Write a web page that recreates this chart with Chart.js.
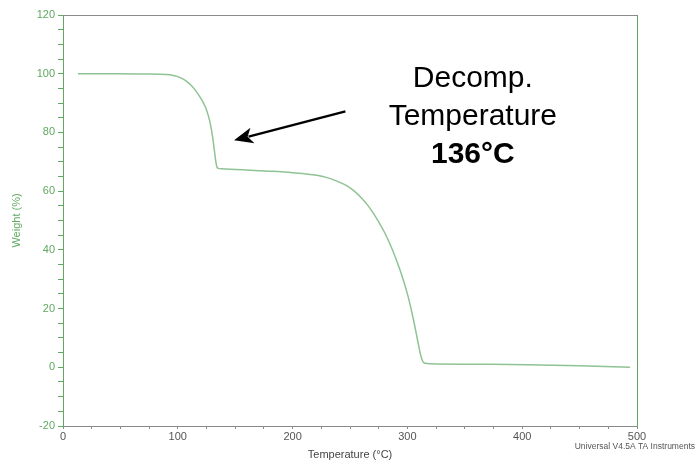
<!DOCTYPE html>
<html>
<head>
<meta charset="utf-8">
<script src="https://cdn.jsdelivr.net/npm/chart.js@4/dist/chart.umd.min.js"></script>
<style>
  html, body { margin: 0; padding: 0; background: #fff; }
  #wrap { width: 698px; height: 464px; }
</style>
</head>
<body>
<div id="wrap"><canvas id="tga"></canvas></div>
<script>
// temperature (°C) and weight (%)
const temperatures = [13, 30, 50, 70, 90, 96, 100, 104, 108, 112, 116, 119, 122, 124.5, 126.5, 128, 129.5, 131,
  132.2, 133.3, 134.2, 135.5, 138, 150, 163, 180, 200, 221, 230, 238, 245, 250, 255, 260, 265, 270, 275, 280,
  285, 290, 295, 300, 304, 307.5, 310, 312, 313.5, 315.5, 320, 360, 404, 450, 494];
const weights = [100, 100, 100, 99.9, 99.7, 99.4, 99.0, 98.3, 97.3, 95.9, 94.0, 92.3, 90.3, 88.2, 85.8, 83.5, 80.5, 76.5,
  72.8, 69.6, 68.1, 67.75, 67.6, 67.4, 67.1, 66.8, 66.3, 65.4, 64.6, 63.5, 62.3, 61.1, 59.6, 57.7, 55.4, 52.7, 49.5, 46,
  41.8, 37, 31.5, 25, 18.5, 12, 7, 3.5, 1.9, 1.35, 1.2, 1.05, 0.9, 0.5, 0];

const yTickLabels = [120, 100, 80, 60, 40, 20, 0, -20];
const xTickLabels = [0, 100, 200, 300, 400, 500];

const noteLines = ['Decomp.', 'Temperature', '136°C'];
const noteAnchor = { x: 357, y: [95.5, 82.4, 69.5] };
const arrowFrom = { x: 246, y: 87.2 };
const arrowTo = { x: 149, y: 77.3 };

const GREEN = '#62a862';
const CURVE = '#8fc394';
const GREY = '#8a8a8a';
const FONT = '"Liberation Sans", Arial, sans-serif';

const points = temperatures.map((t, i) => ({ x: t, y: weights[i] }));

const frame = {
  id: 'frame',
  afterDatasetsDraw(chart) {
    const { ctx, chartArea: a, scales } = chart;
    ctx.save();
    ctx.lineWidth = 1;
    ctx.strokeStyle = GREY;
    ctx.beginPath();
    ctx.moveTo(a.left, a.top + 0.5);
    ctx.lineTo(a.right, a.top + 0.5);
    ctx.stroke();
    ctx.strokeStyle = GREEN;
    ctx.beginPath();
    ctx.moveTo(a.right + 0.5, a.top);
    ctx.lineTo(a.right + 0.5, a.bottom);
    ctx.stroke();

    // annotation
    const x = scales.x, y = scales.y;
    ctx.fillStyle = '#000';
    ctx.textAlign = 'center';
    ctx.textBaseline = 'alphabetic';
    noteLines.forEach((txt, i) => {
      ctx.font = (i === 2 ? 'bold ' : '') + '30px ' + FONT;
      ctx.fillText(txt, x.getPixelForValue(noteAnchor.x), y.getPixelForValue(noteAnchor.y[i]));
    });

    const x1 = x.getPixelForValue(arrowFrom.x), y1 = y.getPixelForValue(arrowFrom.y);
    const x2 = x.getPixelForValue(arrowTo.x), y2 = y.getPixelForValue(arrowTo.y);
    const ang = Math.atan2(y2 - y1, x2 - x1);
    const hl = 19, hw = 8;
    const bx = x2 - hl * Math.cos(ang), by = y2 - hl * Math.sin(ang);
    ctx.strokeStyle = '#000';
    ctx.lineWidth = 2.4;
    ctx.beginPath();
    ctx.moveTo(x1, y1);
    ctx.lineTo(bx + 4 * Math.cos(ang), by + 4 * Math.sin(ang));
    ctx.stroke();
    ctx.beginPath();
    ctx.moveTo(x2, y2);
    ctx.lineTo(bx + hw * Math.sin(ang), by - hw * Math.cos(ang));
    ctx.lineTo(x2 - (hl - 5) * Math.cos(ang), y2 - (hl - 5) * Math.sin(ang));
    ctx.lineTo(bx - hw * Math.sin(ang), by + hw * Math.cos(ang));
    ctx.closePath();
    ctx.fill();

    ctx.font = '8.5px ' + FONT;
    ctx.fillStyle = '#555';
    ctx.textAlign = 'right';
    ctx.textBaseline = 'middle';
    ctx.fillText('Universal V4.5A TA Instruments', 695, 447);
    ctx.restore();
  }
};

new Chart(document.getElementById('tga'), {
  type: 'scatter',
  data: {
    datasets: [{
      data: points,
      showLine: true,
      borderColor: CURVE,
      borderWidth: 1.5,
      pointRadius: 0,
      cubicInterpolationMode: 'monotone',
      fill: false
    }]
  },
  options: {
    responsive: true,
    maintainAspectRatio: false,
    animation: false,
    layout: { padding: { top: 15, right: 61, left: 0, bottom: 0 } },
    plugins: { legend: { display: false }, tooltip: { enabled: false } },
    scales: {
      x: {
        type: 'linear',
        min: 0,
        max: 500,
        afterFit: s => { s.height = 38; },
        afterBuildTicks: s => {
          s.ticks = [];
          for (let v = 0; v <= 500; v += 25) s.ticks.push({ value: v });
        },
        border: { color: GREY, width: 1 },
        grid: { drawOnChartArea: false, tickLength: 3, color: GREY },
        ticks: {
          autoSkip: false,
          maxRotation: 0,
          padding: 1,
          color: '#555',
          font: { family: FONT, size: 11 },
          callback: v => (xTickLabels.includes(v) ? v : '')
        },
        title: {
          display: true,
          text: 'Temperature (°C)',
          color: '#444',
          font: { family: FONT, size: 11 },
          padding: { top: 0, bottom: 2.5 }
        }
      },
      y: {
        min: -20,
        max: 120,
        afterFit: s => { s.width = 63; },
        afterBuildTicks: s => {
          s.ticks = [];
          for (let v = -20; v <= 120; v += 5) s.ticks.push({ value: v });
        },
        border: { color: GREEN, width: 1 },
        grid: { drawOnChartArea: false, tickLength: 5, color: GREEN },
        ticks: {
          autoSkip: false,
          padding: 3,
          color: GREEN,
          font: { family: FONT, size: 11 },
          callback: v => (yTickLabels.includes(v) ? v : '')
        },
        title: {
          display: true,
          text: 'Weight (%)',
          color: GREEN,
          font: { family: FONT, size: 11 },
          padding: { top: 10, bottom: 0 }
        }
      }
    }
  },
  plugins: [frame]
});
</script>
</body>
</html>
